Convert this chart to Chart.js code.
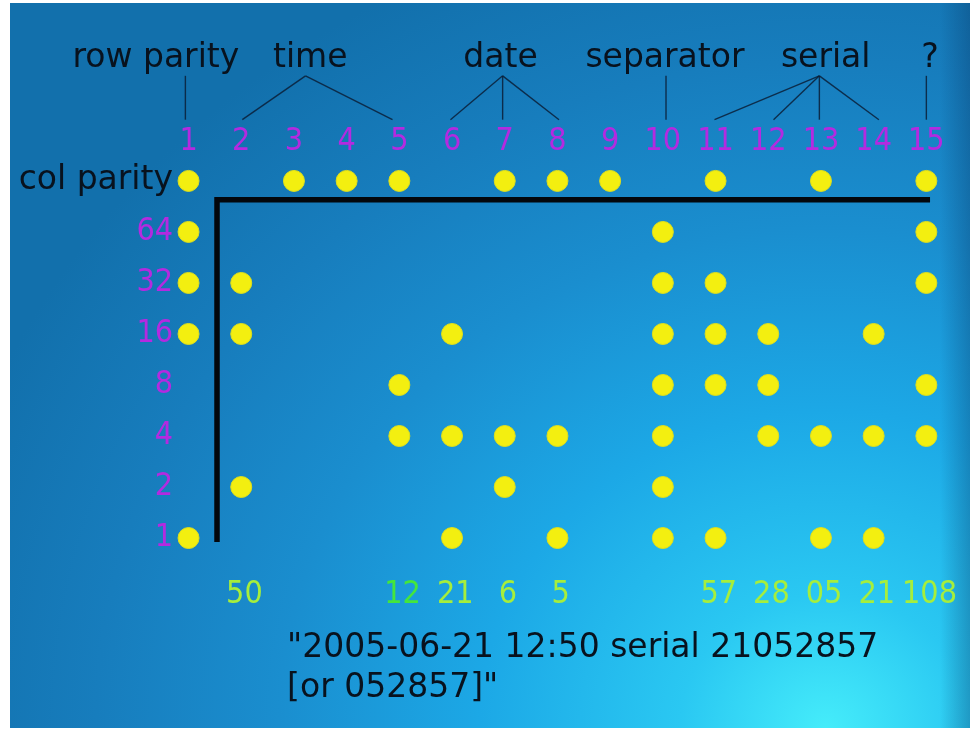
<!DOCTYPE html>
<html>
<head>
<meta charset="utf-8">
<script src="https://cdn.jsdelivr.net/npm/chart.js@4.4.1/dist/chart.umd.min.js"></script>
<style>
  html, body { margin: 0; padding: 0; background: #ffffff; }
  #wrap { position: relative; width: 970px; height: 729px; overflow: hidden; }
  #bg {
    position: absolute; left: 10px; top: 3px; width: 960px; height: 725px;
    background:
      linear-gradient(to left, rgba(5, 45, 90, 0.3) 0px, rgba(5, 45, 90, 0) 30px),
      radial-gradient(ellipse 95% 115% at 85% 100%, #45ecfa 0%, #2ac8f2 16%, #1ca8e6 38%, #1a8ecf 60%, #177dbd 80%, #1270ac 100%);
  }
  #c { position: absolute; left: 0; top: 0; }
</style>
</head>
<body>
<div id="wrap">
  <div id="bg"></div>
  <canvas id="c" width="970" height="729"></canvas>
</div>
<script>
// columns across the top, rows down the side
const columnLabels = ['1', '2', '3', '4', '5', '6', '7', '8', '9', '10', '11', '12', '13', '14', '15'];
const rowValues = [1, 2, 3, 4, 5, 6, 7, 8];
const rowLabels = ['1', '2', '4', '8', '16', '32', '64', 'col parity'];

// rows that carry a dot, per column (8 = col parity row, 7 = 64 ... 1 = 1)
const dotRows = [
  [8, 7, 6, 5, 1],
  [6, 5, 2],
  [8],
  [8],
  [8, 4, 3],
  [5, 3, 1],
  [8, 3, 2],
  [8, 3, 1],
  [8],
  [7, 6, 5, 4, 3, 2, 1],
  [8, 6, 5, 4, 1],
  [5, 4, 3],
  [8, 3, 1],
  [5, 3, 1],
  [8, 7, 6, 4, 3]
];

// decoded values under the columns
const decodedCols = [2, 5, 6, 7, 8, 11, 12, 13, 14, 15];
const decodedLabels = ['50', '12', '21', '6', '5', '57', '28', '05', '21', '108'];

// field names above the columns
const groupLabels = ['row parity', 'time', 'date', 'separator', 'serial', '?'];
const groupLabelCols = [0.38, 3.31, 6.92, 10.04, 13.09, 15.07];
const groupApexCols = [0.94, 3.22, 6.96, 10.06, 12.97, 15.0];
const groupCols = [[0.94], [2.02, 4.87], [5.97, 6.96, 8.03], [10.06], [10.98, 12.1, 12.97, 14.1], [15.0]];

// the black corner frame
const frameX = [1.54, 1.54, 15.07];
const frameY = [0.92, 7.63, 7.63];

const captionLines = ['"2005-06-21 12:50 serial 21052857', '[or 052857]"'];

const dots = [];
dotRows.forEach((rows, i) => {
  rows.forEach(r => dots.push({ x: i + 1, y: r }));
});
const frame = frameX.map((x, i) => ({ x: x, y: frameY[i] }));

const magenta = '#b42ae0';
const ink = '#08121e';

const notesPlugin = {
  id: 'notes',
  afterDraw(chart) {
    const ctx = chart.ctx;
    const xs = chart.scales.x;
    const ys = chart.scales.y;
    ctx.save();

    // field names and their pointer lines
    ctx.fillStyle = ink;
    ctx.font = '33px "DejaVu Sans"';
    ctx.textAlign = 'center';
    ctx.textBaseline = 'alphabetic';
    groupLabels.forEach((lab, i) => {
      ctx.fillText(lab, xs.getPixelForValue(groupLabelCols[i]), ys.getPixelForValue(10.24));
    });
    ctx.strokeStyle = 'rgba(10, 30, 55, 0.85)';
    ctx.lineWidth = 1.4;
    groupCols.forEach((cols, i) => {
      const ax = xs.getPixelForValue(groupApexCols[i]);
      const ay = ys.getPixelForValue(10.06);
      cols.forEach(c => {
        ctx.beginPath();
        ctx.moveTo(ax, ay);
        ctx.lineTo(xs.getPixelForValue(c), ys.getPixelForValue(9.2));
        ctx.stroke();
      });
    });

    // decoded numbers
    ctx.font = '32px "DejaVu Sans Condensed"';
    decodedCols.forEach((c, i) => {
      ctx.fillStyle = decodedLabels[i] === '12' ? '#44e63c' : '#a6ee3c';
      ctx.fillText(decodedLabels[i], xs.getPixelForValue(c + 0.06), ys.getPixelForValue(-0.27));
    });

    // caption
    ctx.fillStyle = ink;
    ctx.font = '33px "DejaVu Sans"';
    ctx.textAlign = 'left';
    ctx.fillText(captionLines[0], xs.getPixelForValue(2.87), ys.getPixelForValue(-1.33));
    ctx.fillText(captionLines[1], xs.getPixelForValue(2.87), ys.getPixelForValue(-2.12));
    ctx.restore();
  }
};

new Chart(document.getElementById('c'), {
  type: 'scatter',
  data: {
    datasets: [
      {
        type: 'line',
        data: frame,
        borderColor: '#03070c',
        borderWidth: 5.5,
        pointRadius: 0,
        fill: false,
        tension: 0,
        borderCapStyle: 'butt',
        borderJoinStyle: 'miter'
      },
      {
        data: dots,
        pointRadius: 10.5,
        pointHoverRadius: 10.5,
        backgroundColor: '#f3ef10',
        borderColor: '#dede1c',
        borderWidth: 1
      }
    ]
  },
  options: {
    responsive: false,
    animation: false,
    layout: { padding: { left: 0, right: 0, top: 0, bottom: 8 } },
    plugins: { legend: { display: false }, tooltip: { enabled: false } },
    scales: {
      x: {
        type: 'linear',
        position: 'top',
        min: 0.762,
        max: 15.61,
        grid: { display: false },
        border: { display: false },
        afterFit(scale) { scale.height = 160; },
        afterBuildTicks(scale) {
          scale.ticks = columnLabels.map((_, i) => ({ value: i + 1 }));
        },
        ticks: {
          autoSkip: false,
          maxRotation: 0,
          padding: -9,
          color: magenta,
          font: { family: '"DejaVu Sans Condensed"', size: 32 },
          callback: (v) => columnLabels[v - 1]
        }
      },
      y: {
        type: 'linear',
        min: -2.465,
        max: 8.41,
        grid: { display: false },
        border: { display: false },
        afterFit(scale) { scale.width = 176; },
        afterBuildTicks(scale) {
          scale.ticks = rowValues.map(v => ({ value: v }));
        },
        ticks: {
          autoSkip: false,
          padding: -5,
          color: (c) => (c.tick && c.tick.value === 8 ? ink : magenta),
          font: (c) => (c.tick && c.tick.value === 8
            ? { family: '"DejaVu Sans"', size: 33 }
            : { family: '"DejaVu Sans Condensed"', size: 32 }),
          callback: (v) => rowLabels[rowValues.indexOf(v)]
        }
      }
    }
  },
  plugins: [notesPlugin]
});
</script>
</body>
</html>
